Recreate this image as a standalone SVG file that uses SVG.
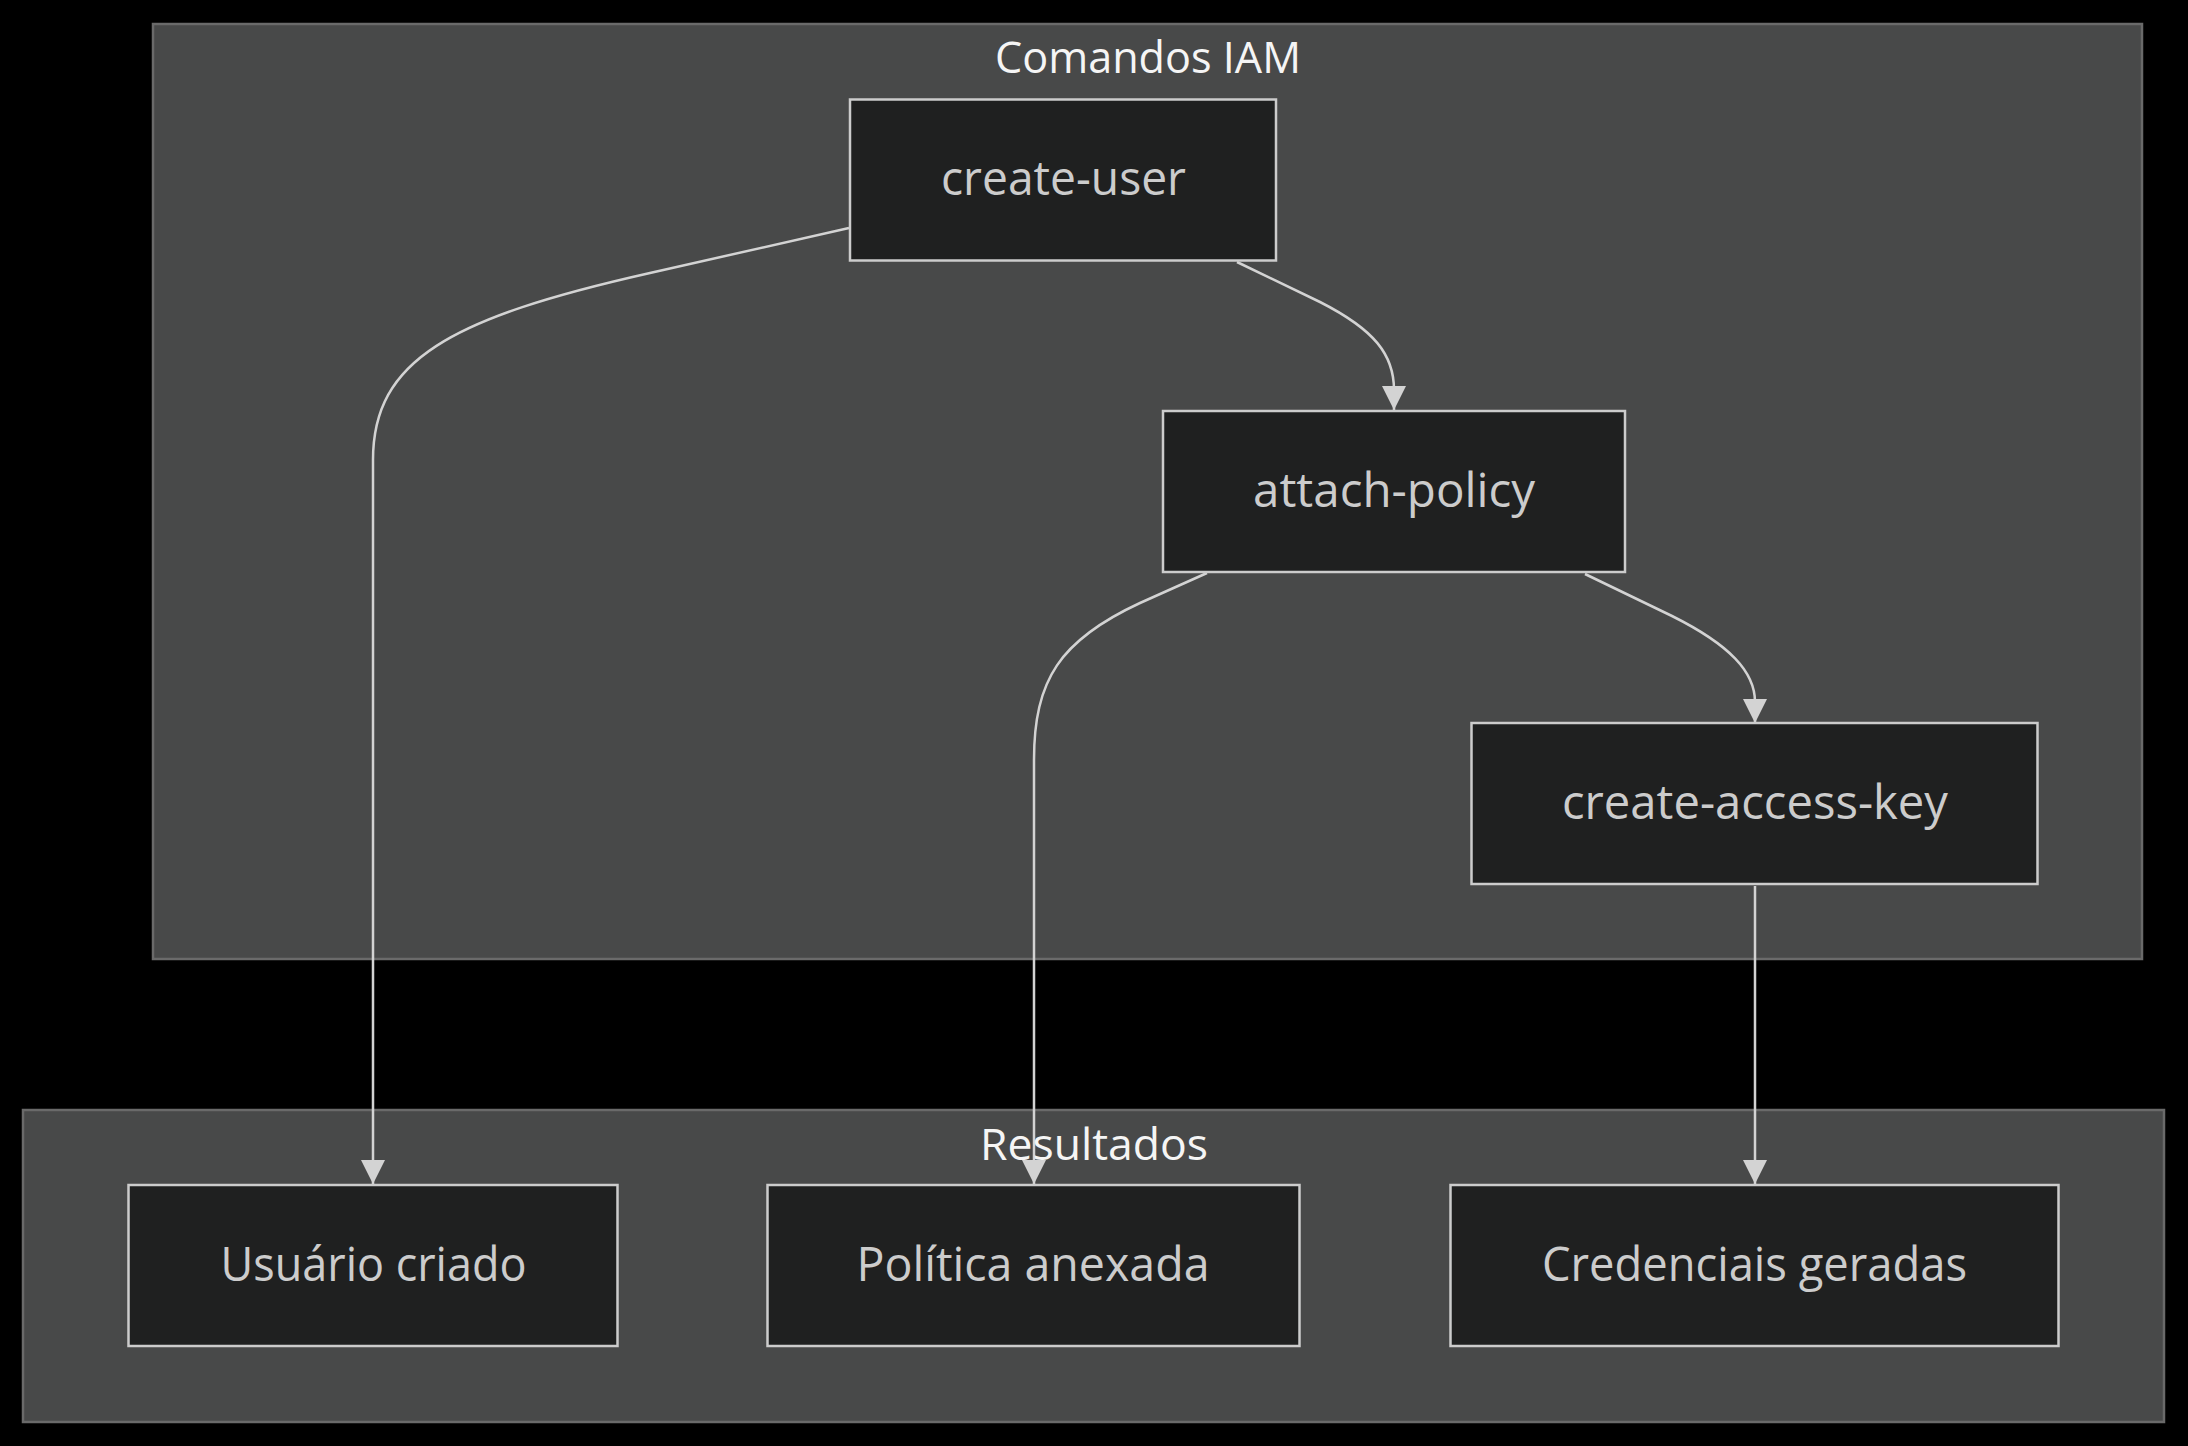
<svg xmlns="http://www.w3.org/2000/svg" width="2188" height="1446" viewBox="0 0 2188 1446">
<defs>
<style>
.cluster{fill:#484949;stroke:#6a6a6a;stroke-width:2.5}
.node rect{fill:#1f2020;stroke:#cccccc;stroke-width:2.5}
.label{font-family:"Trebuchet MS","Open Sans",sans-serif;font-size:47px;fill:#cccccc;text-anchor:middle}
.title{font-family:"Trebuchet MS","Open Sans",sans-serif;font-size:44px;fill:#f5f5f5;text-anchor:middle}
.edge{fill:none;stroke:#d3d3d3;stroke-width:2.5}
</style>
<marker id="arrow" viewBox="0 0 10 10" refX="10" refY="5" markerUnits="userSpaceOnUse" markerWidth="24" markerHeight="24" orient="auto">
<path d="M0,0 L10,5 L0,10 z" fill="#d3d3d3"/>
</marker>
</defs>
<rect x="0" y="0" width="2188" height="1446" fill="#000000"/>
<g id="cluster-comandos">
<rect class="cluster" x="153" y="24" width="1989" height="935"/>
<text class="title" x="1148" y="73" textLength="306" lengthAdjust="spacingAndGlyphs">Comandos IAM</text>
</g>
<g id="cluster-resultados">
<rect class="cluster" x="23" y="1110" width="2141" height="312"/>
</g>
<g id="connectors">
<path class="edge" d="M849,228 L650,273 C450,318 373,360 373,460 L373,1184" marker-end="url(#arrow)"/>
<path class="edge" d="M1237,262 L1320,302 C1375,330 1394,355 1394,390 L1394,410" marker-end="url(#arrow)"/>
<path class="edge" d="M1207,573 L1140,603 C1060,640 1034,680 1034,760 L1034,1184" marker-end="url(#arrow)"/>
<path class="edge" d="M1585,574 L1672,616 C1730,645 1755,672 1755,702 L1755,723" marker-end="url(#arrow)"/>
<path class="edge" d="M1755,886 L1755,1184" marker-end="url(#arrow)"/>
</g>
<g id="title-resultados">
<text class="title" x="1094" y="1160" textLength="228" lengthAdjust="spacingAndGlyphs">Resultados</text>
</g>
<g id="node-create-user" class="node">
<rect x="850" y="99.5" width="426" height="161"/>
<text class="label" x="1063.5" y="195" textLength="245" lengthAdjust="spacingAndGlyphs">create-user</text>
</g>
<g id="node-attach-policy" class="node">
<rect x="1163" y="411" width="462" height="161"/>
<text class="label" x="1394" y="507" textLength="282" lengthAdjust="spacingAndGlyphs">attach-policy</text>
</g>
<g id="node-create-access-key" class="node">
<rect x="1471.5" y="723" width="566" height="161"/>
<text class="label" x="1755" y="819" textLength="386" lengthAdjust="spacingAndGlyphs">create-access-key</text>
</g>
<g id="node-usuario" class="node">
<rect x="128.5" y="1185" width="489" height="161"/>
<text class="label" x="373.5" y="1281" textLength="306" lengthAdjust="spacingAndGlyphs">Usuário criado</text>
</g>
<g id="node-politica" class="node">
<rect x="767.5" y="1185" width="532" height="161"/>
<text class="label" x="1033" y="1281" textLength="353" lengthAdjust="spacingAndGlyphs">Política anexada</text>
</g>
<g id="node-credenciais" class="node">
<rect x="1450.5" y="1185" width="608" height="161"/>
<text class="label" x="1754.5" y="1281" textLength="425" lengthAdjust="spacingAndGlyphs">Credenciais geradas</text>
</g>
</svg>
